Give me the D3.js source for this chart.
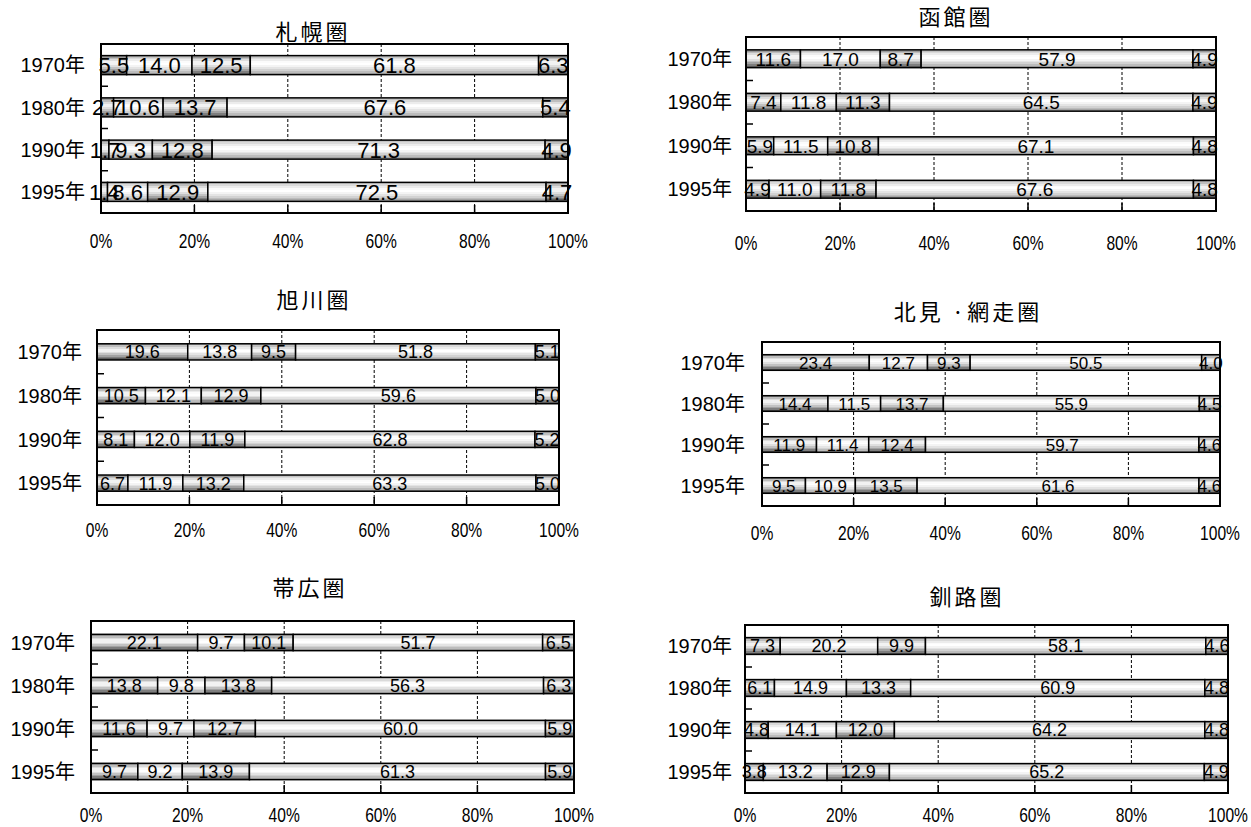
<!DOCTYPE html>
<html><head><meta charset="utf-8">
<script src="https://cdn.jsdelivr.net/npm/d3@7"></script>
<style>body{margin:0;background:#fff}</style>
</head><body>
<svg id="c" width="1251" height="827" xmlns="http://www.w3.org/2000/svg"></svg>
<script>
const years = ["1970年","1980年","1990年","1995年"];
const titles = ["札幌圏","函館圏","旭川圏","北見 ·網走圏","帯広圏","釧路圏"];
const sapporo   = [[5.5,14.0,12.5,61.8,6.3],[2.7,10.6,13.7,67.6,5.4],[1.7,9.3,12.8,71.3,4.9],[1.4,8.6,12.9,72.5,4.7]];
const hakodate  = [[11.6,17.0,8.7,57.9,4.9],[7.4,11.8,11.3,64.5,4.9],[5.9,11.5,10.8,67.1,4.8],[4.9,11.0,11.8,67.6,4.8]];
const asahikawa = [[19.6,13.8,9.5,51.8,5.1],[10.5,12.1,12.9,59.6,5.0],[8.1,12.0,11.9,62.8,5.2],[6.7,11.9,13.2,63.3,5.0]];
const kitami    = [[23.4,12.7,9.3,50.5,4.0],[14.4,11.5,13.7,55.9,4.5],[11.9,11.4,12.4,59.7,4.6],[9.5,10.9,13.5,61.6,4.6]];
const obihiro   = [[22.1,9.7,10.1,51.7,6.5],[13.8,9.8,13.8,56.3,6.3],[11.6,9.7,12.7,60.0,5.9],[9.7,9.2,13.9,61.3,5.9]];
const kushiro   = [[7.3,20.2,9.9,58.1,4.6],[6.1,14.9,13.3,60.9,4.8],[4.8,14.1,12.0,64.2,4.8],[3.8,13.2,12.9,65.2,4.9]];
const xTickValues = [0,20,40,60,80,100];
const xTickLabels = ["0%","20%","40%","60%","80%","100%"];

const datasets = [sapporo, hakodate, asahikawa, kitami, obihiro, kushiro];
const layout = [
  {L:101,R:568,T:44,B:213,tx:313,ty:32,lab:241,yl:85,pad:0.55,fs:22},
  {L:746,R:1216,T:37,B:211,tx:956,ty:17,lab:243,yl:732,pad:0.59,fs:19},
  {L:97,R:559,T:330,B:505,tx:314,ty:300,lab:530,yl:82,pad:0.63,fs:18},
  {L:762,R:1220,T:342,B:506,tx:968,ty:312,lab:533,yl:745,pad:0.62,fs:17},
  {L:91,R:574,T:621,B:793,tx:310,ty:588,lab:815,yl:75,pad:0.62,fs:18},
  {L:745,R:1228,T:625,B:793,tx:967,ty:597,lab:815,yl:732,pad:0.6,fs:18}
];
const FONT = "'Liberation Sans', Arial, 'Noto Sans CJK JP', sans-serif";
const CJK = "'Noto Sans CJK JP', 'Liberation Sans', sans-serif";

const svg = d3.select("#c");
const defs = svg.append("defs");
function bandedGrad(id, colors){
  const g = defs.append("linearGradient").attr("id", id).attr("x1",0).attr("y1",0).attr("x2",0).attr("y2",1);
  const n = colors.length;
  colors.forEach((c,i) => {
    g.append("stop").attr("offset", i/n).attr("stop-color", c);
    g.append("stop").attr("offset", (i+1)/n).attr("stop-color", c);
  });
}
bandedGrad("gA", ["#9a9a9a","#bdbdbd","#dcdcdc","#f2f2f2","#f2f2f2","#dedede","#c2c2c2","#a2a2a2","#7e7e7e","#5c5c5c"]);
bandedGrad("gB", ["#c4c4c4","#dadada","#ececec","#fbfbfb","#ffffff","#f4f4f4","#e4e4e4","#d2d2d2","#bcbcbc","#a6a6a6"]);

const keys = [0,1,2,3,4];
const stack = d3.stack().keys(keys).value((d,k)=>d[k]).offset(d3.stackOffsetExpand);

datasets.forEach((data, pi) => {
  const c = layout[pi];
  const g = svg.append("g");
  const x = d3.scaleLinear().domain([0,100]).range([c.L, c.R]);
  const y = d3.scaleBand().domain(years).range([c.T, c.B]).paddingInner(c.pad).paddingOuter(c.pad/2);
  const series = stack(data);

  // gridlines
  g.selectAll(".grid").data(xTickValues.slice(1,-1)).join("line")
    .attr("x1", d=>x(d)).attr("x2", d=>x(d)).attr("y1", c.T).attr("y2", c.B)
    .attr("stroke","#000").attr("stroke-width",1).attr("stroke-dasharray","3,2");

  // bars
  series.forEach((s, si) => {
    g.selectAll(".b"+si).data(s).join("rect")
      .attr("x", d=>x(d[0]*100)).attr("width", d=>x(d[1]*100)-x(d[0]*100))
      .attr("y", (d,i)=>y(years[i])).attr("height", y.bandwidth())
      .attr("fill", si%2===0 ? "url(#gA)" : "url(#gB)")
      .attr("stroke","#000").attr("stroke-width",1.5);
  });

  // frame
  g.append("rect").attr("x",c.L).attr("y",c.T).attr("width",c.R-c.L).attr("height",c.B-c.T)
    .attr("fill","none").attr("stroke","#000").attr("stroke-width",2);

  // left ticks at band boundaries
  const step = y.step();
  g.selectAll(".lt").data([1,2,3]).join("line")
    .attr("x1", c.L).attr("x2", c.L+7)
    .attr("y1", d=>c.T+d*step).attr("y2", d=>c.T+d*step)
    .attr("stroke","#000").attr("stroke-width",1.5);
  // bottom ticks
  g.selectAll(".bt").data(xTickValues.slice(1,-1)).join("line")
    .attr("x1", d=>x(d)).attr("x2", d=>x(d)).attr("y1", c.B).attr("y2", c.B-8)
    .attr("stroke","#000").attr("stroke-width",1.5);

  // data labels
  series.forEach((s, si) => {
    g.selectAll(".t"+si).data(s).join("text")
      .attr("x", d=>x((d[0]+d[1])*50)).attr("y", (d,i)=>y(years[i])+y.bandwidth()/2)
      .attr("dy","0.36em").attr("text-anchor","middle")
      .attr("font-family", FONT).attr("font-size", c.fs).attr("fill","#000")
      .text((d,i)=>data[i][si].toFixed(1));
  });

  // year labels
  g.selectAll(".yl").data(years).join("text")
    .attr("x", c.yl).attr("y", d=>y(d)+y.bandwidth()/2).attr("dy","0.36em")
    .attr("text-anchor","end").attr("font-family", FONT).attr("font-size",20)
    .text(d=>d);

  // x tick labels
  g.selectAll(".xl").data(xTickValues).join("text")
    .attr("transform", d=>`translate(${x(d)},${c.lab}) scale(0.78,1)`)
    .attr("dy","0.36em").attr("text-anchor","middle")
    .attr("font-family", FONT).attr("font-size",20)
    .text((d,i)=>xTickLabels[i]);

  // title
  g.append("text").attr("x", c.tx).attr("y", c.ty).attr("dy","0.36em")
    .attr("text-anchor","middle").attr("font-family", CJK).attr("font-size",22)
    .attr("letter-spacing", 3).text(titles[pi]);
});
</script>
</body></html>
